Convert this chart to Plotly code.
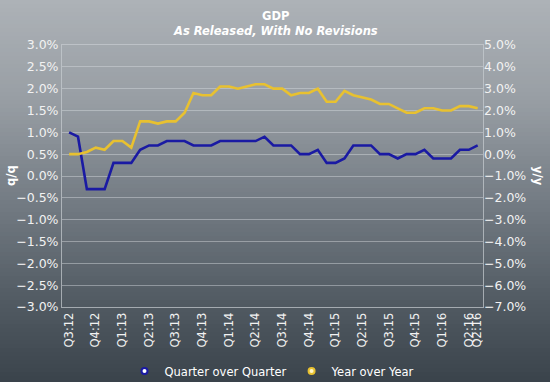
import plotly.graph_objects as go

# ---- data ----
qoq = [1.0, 0.9, -0.3, -0.3, -0.3, 0.3, 0.3, 0.3, 0.6, 0.7,
       0.7, 0.8, 0.8, 0.8, 0.7, 0.7, 0.7, 0.8, 0.8, 0.8,
       0.8, 0.8, 0.9, 0.7, 0.7, 0.7, 0.5, 0.5, 0.6, 0.3,
       0.3, 0.4, 0.7, 0.7, 0.7, 0.5, 0.5, 0.4, 0.5, 0.5,
       0.6, 0.4, 0.4, 0.4, 0.6, 0.6, 0.7]
yoy = [0.0, 0.0, 0.1, 0.3, 0.2, 0.6, 0.6, 0.3, 1.5, 1.5,
       1.4, 1.5, 1.5, 1.9, 2.8, 2.7, 2.7, 3.1, 3.1, 3.0,
       3.1, 3.2, 3.2, 3.0, 3.0, 2.7, 2.8, 2.8, 3.0, 2.4,
       2.4, 2.9, 2.7, 2.6, 2.5, 2.3, 2.3, 2.1, 1.9, 1.9,
       2.1, 2.1, 2.0, 2.0, 2.2, 2.2, 2.1]
tick_labels = ["Q3:12", "Q4:12", "Q1:13", "Q2:13", "Q3:13", "Q4:13",
               "Q1:14", "Q2:14", "Q3:14", "Q4:14", "Q1:15", "Q2:15",
               "Q3:15", "Q4:15", "Q1:16", "Q2:16", "Q2:16"]
tick_index = [0, 3, 6, 9, 12, 15, 18, 21, 24, 27, 30, 33, 36, 39, 42, 45, 46]

x = list(range(len(qoq)))

W, H = 550, 382
L, R, T, B = 62, 67, 45, 75
PW, PH = W - L - R, H - T - B

def px_to_paper_x(px):
    return (px - L) / PW

def py_to_paper_y(py):
    return (H - B - py) / PH

FONT = "DejaVu Sans, Verdana, sans-serif"
BLUE = "#1a1aa3"
YELLOW = "#e8c130"

fig = go.Figure()
fig.add_trace(go.Scatter(x=x, y=qoq, mode="lines", name="Quarter over Quarter",
                         line=dict(color=BLUE, width=2.6), showlegend=False,
                         yaxis="y"))
fig.add_trace(go.Scatter(x=x, y=yoy, mode="lines", name="Year over Year",
                         line=dict(color=YELLOW, width=2.6), showlegend=False,
                         yaxis="y2"))
# legend entries (marker-only symbols)
fig.add_trace(go.Scatter(x=[None], y=[None], mode="markers", name="Quarter over Quarter",
                         marker=dict(color="white", size=6, line=dict(color=BLUE, width=2))))
fig.add_trace(go.Scatter(x=[None], y=[None], mode="markers", name="Year over Year",
                         marker=dict(color="#fff6c8", size=6, line=dict(color=YELLOW, width=2))))

# background gradient strips
stops = [(0, (173, 178, 183)), (100, (152, 158, 164)), (200, (116, 124, 132)),
         (300, (82, 91, 99)), (382, (58, 67, 75))]

def col_at(py):
    for (y0, c0), (y1, c1) in zip(stops[:-1], stops[1:]):
        if y0 <= py <= y1:
            t = (py - y0) / (y1 - y0)
            return "rgb(%d,%d,%d)" % tuple(round(a + (b - a) * t) for a, b in zip(c0, c1))
    return "rgb(%d,%d,%d)" % stops[-1][1]

shapes = []
step = 4
for py in range(0, H, step):
    shapes.append(dict(type="rect", xref="paper", yref="paper", layer="below",
                       x0=px_to_paper_x(-2), x1=px_to_paper_x(W + 2),
                       y0=py_to_paper_y(py + step + 0.5), y1=py_to_paper_y(py),
                       fillcolor=col_at(py + step / 2), line=dict(width=0)))

annotations = [
    dict(text="<b>GDP</b>", xref="paper", yref="paper", x=px_to_paper_x(275),
         y=py_to_paper_y(16), xanchor="center", yanchor="middle", showarrow=False,
         font=dict(family=FONT, size=11.5, color="white")),
    dict(text="<b><i>As Released, With No Revisions</i></b>", xref="paper", yref="paper",
         x=px_to_paper_x(275), y=py_to_paper_y(31), xanchor="center", yanchor="middle",
         showarrow=False, font=dict(family=FONT, size=11.5, color="white")),
    dict(text="<b>q/q</b>", xref="paper", yref="paper", x=px_to_paper_x(11),
         y=py_to_paper_y(176), xanchor="center", yanchor="middle", showarrow=False,
         textangle=-90, font=dict(family=FONT, size=11.5, color="white")),
    dict(text="<b>y/y</b>", xref="paper", yref="paper", x=px_to_paper_x(538),
         y=py_to_paper_y(176), xanchor="center", yanchor="middle", showarrow=False,
         textangle=90, font=dict(family=FONT, size=11.5, color="white")),
]

grid = "rgba(215,220,225,0.45)"
border = "rgba(200,205,210,0.7)"
tickfont = dict(family=FONT, size=12.5, color="#f2f2f2")

fig.update_layout(
    width=W, height=H,
    margin=dict(l=L, r=R, t=T, b=B, autoexpand=False),
    paper_bgcolor="#7a828a",
    plot_bgcolor="rgba(0,0,0,0)",
    shapes=shapes,
    annotations=annotations,
    showlegend=True,
    hovermode=False,
    legend=dict(orientation="h", x=0.5, xanchor="center", y=py_to_paper_y(371),
                yanchor="middle", font=dict(family=FONT, size=11.5, color="white"),
                bgcolor="rgba(0,0,0,0)", itemwidth=30, tracegroupgap=0),
    xaxis=dict(range=[-0.8, 46.6], tickmode="array", tickvals=tick_index,
               ticktext=tick_labels, tickangle=-90, showgrid=False, zeroline=False,
               showline=True, mirror=True, linecolor=border, linewidth=1,
               tickfont=dict(family=FONT, size=11.5, color="#f2f2f2"), ticks=""),
    yaxis=dict(range=[-3, 3], dtick=0.5, tick0=0, tickformat=".1f", ticksuffix="%",
               showgrid=True, gridcolor=grid, gridwidth=1, zeroline=False,
               showline=True, mirror=True, linecolor=border, linewidth=1,
               tickfont=tickfont, ticks=""),
    yaxis2=dict(range=[-7, 5], dtick=1, tick0=0, tickformat=".1f", ticksuffix="%",
                overlaying="y", side="right", showgrid=False, zeroline=False,
                showline=False, tickfont=tickfont, ticks=""),
)

fig.write_html("out.html", config={"displayModeBar": False},
               post_script="document.body.style.margin='0px';document.body.style.overflow='hidden';")
